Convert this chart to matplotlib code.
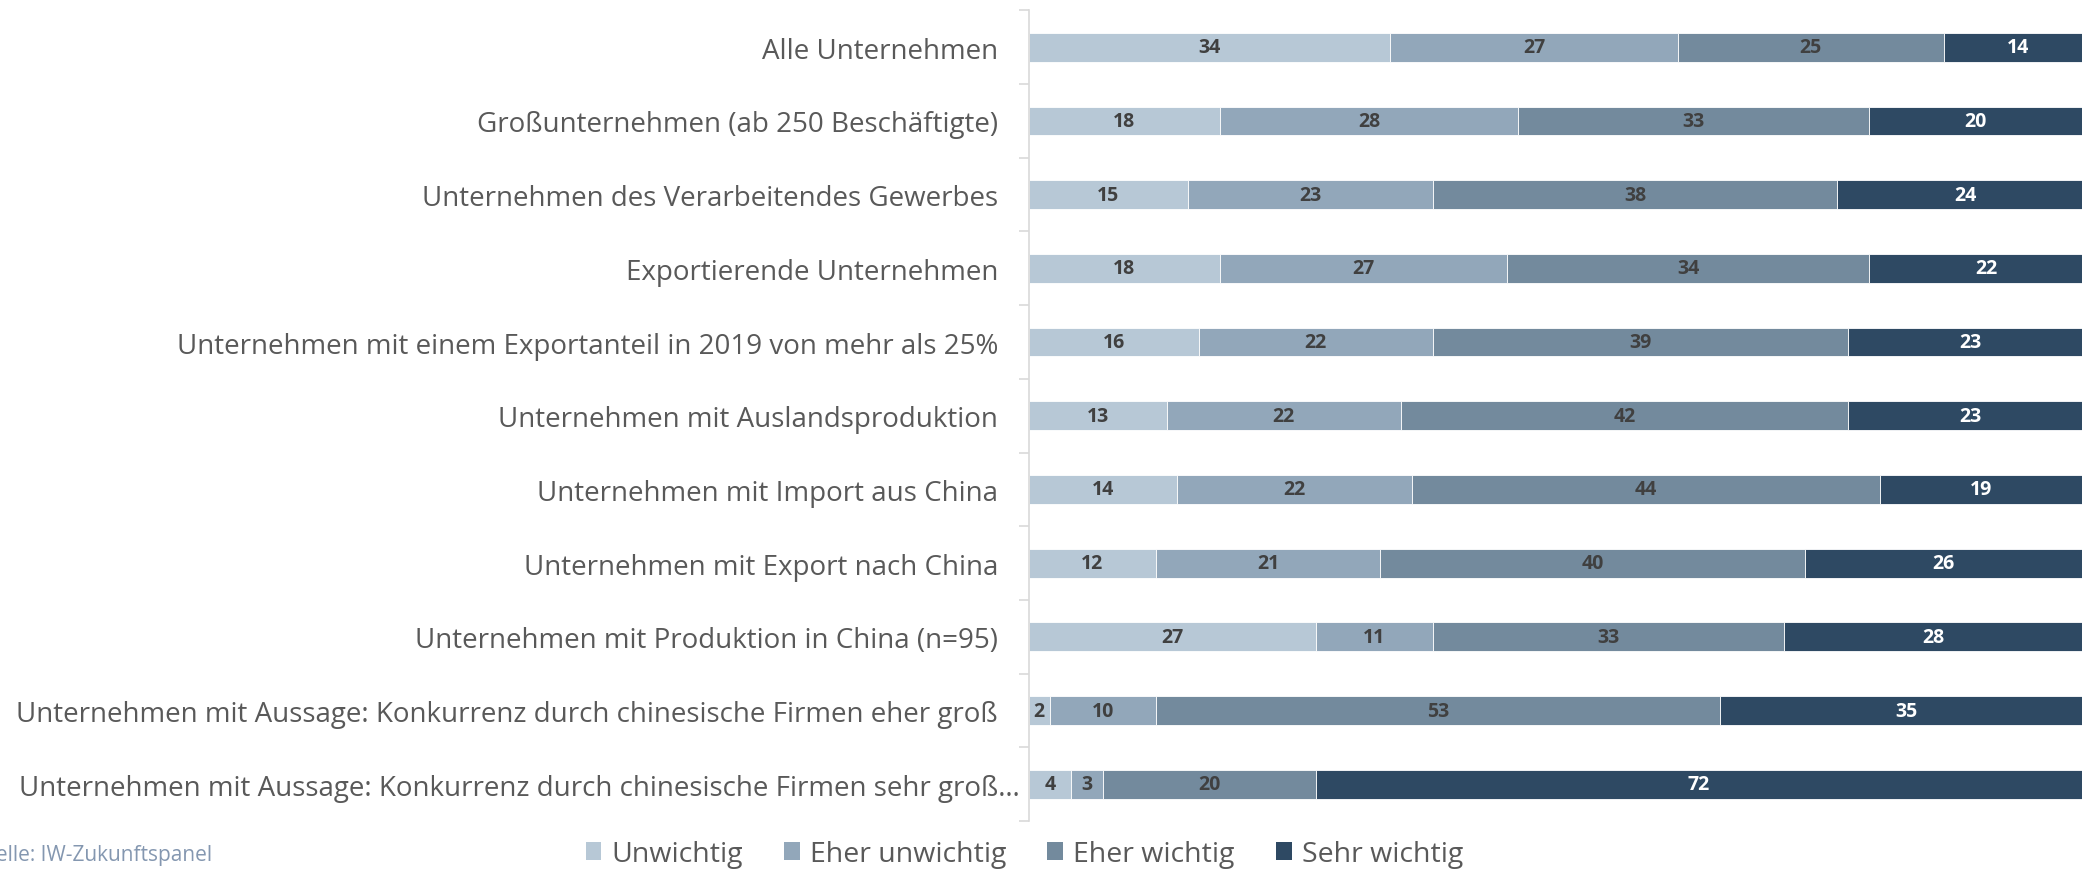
import matplotlib
matplotlib.use("Agg")
import matplotlib.pyplot as plt
from matplotlib.patches import Patch
from matplotlib.transforms import ScaledTranslation
import numpy as np

categories = [
    "Alle Unternehmen",
    "Großunternehmen (ab 250 Beschäftigte)",
    "Unternehmen des Verarbeitendes Gewerbes",
    "Exportierende Unternehmen",
    "Unternehmen mit einem Exportanteil in 2019 von mehr als 25%",
    "Unternehmen mit Auslandsproduktion",
    "Unternehmen mit Import aus China",
    "Unternehmen mit Export nach China",
    "Unternehmen mit Produktion in China (n=95)",
    "Unternehmen mit Aussage: Konkurrenz durch chinesische Firmen eher groß",
    "Unternehmen mit Aussage: Konkurrenz durch chinesische Firmen sehr groß…",
]
series_names = ["Unwichtig", "Eher unwichtig", "Eher wichtig", "Sehr wichtig"]
unwichtig = [34, 18, 15, 18, 16, 13, 14, 12, 27, 2, 4]
eher_unwichtig = [27, 28, 23, 27, 22, 22, 22, 21, 11, 10, 3]
eher_wichtig = [25, 33, 38, 34, 39, 42, 44, 40, 33, 53, 20]
sehr_wichtig = [14, 20, 24, 22, 23, 23, 19, 26, 28, 35, 72]
source_text = "Quelle: IW-Zukunftspanel"

colors = ["#B7C8D6", "#92A7BA", "#738A9D", "#2E4963"]
label_colors = ["#404040", "#404040", "#404040", "#FFFFFF"]

plt.rcParams['font.family'] = ['Open Sans', 'DejaVu Sans']

fig = plt.figure(figsize=(20.82, 8.70), dpi=100)
ax = fig.add_axes([0.494, 0.055, 0.506, 0.932])

y = np.arange(len(categories))
left = np.zeros(len(categories))
data = [unwichtig, eher_unwichtig, eher_wichtig, sehr_wichtig]
for vals, col, lc, name in zip(data, colors, label_colors, series_names):
    vals = np.array(vals, dtype=float)
    ax.barh(y, vals, left=left, height=0.39, color=col,
            edgecolor="#FFFFFF", linewidth=0.6, label=name)
    for yi, l, v in zip(y, left, vals):
        ax.text(l + v / 2, yi, f"{int(v)}", ha="center", va="center",
                fontsize=14, fontweight="bold", color=lc, clip_on=True)
    left = left + vals

ax.set_xlim(0, 99)
ax.set_ylim(len(categories) - 0.5, -0.5)
ax.set_yticks(y)
ax.set_yticklabels(categories, fontsize=20, color="#595959")
ax.set_yticks(np.arange(len(categories) + 1) - 0.5, minor=True)
ax.tick_params(axis="y", which="major", length=0, pad=22)
ax.tick_params(axis="y", which="minor", length=7, color="#D9D9D9", width=1.2)
ax.set_xticks([])
for s in ["top", "right", "bottom"]:
    ax.spines[s].set_visible(False)
ax.spines["left"].set_color("#D9D9D9")
ax.spines["left"].set_linewidth(1.2)

# the truncated last label sits closer to the axis
last = ax.get_yticklabels()[-1]
last.set_transform(last.get_transform() + ScaledTranslation(16 / 72, 0, fig.dpi_scale_trans))

handles = [Patch(facecolor=c, label=n) for c, n in zip(colors, series_names)]
fig.legend(handles=handles, loc="center", bbox_to_anchor=(0.492, 0.017),
           ncol=4, frameon=False, fontsize=20.5, handlelength=0.56,
           handleheight=0.56, handletextpad=0.35, columnspacing=1.44,
           labelcolor="#595959")

fig.text(212 / 2082, 0.017, source_text, fontsize=15, color="#8497B0",
         ha="right", va="center")

fig.savefig("out.png", dpi=100)
